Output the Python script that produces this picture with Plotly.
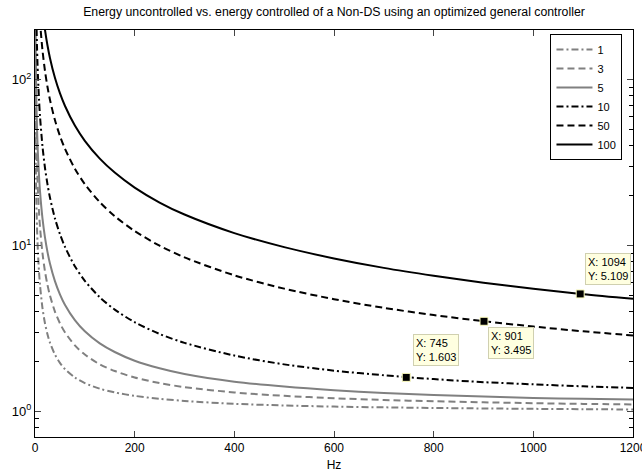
import math
import plotly.graph_objects as go

freq = [0.25, 1, 2, 3, 4, 5, 6, 8, 10, 15, 20, 25, 30, 40, 50, 60, 80, 100, 130, 160,
        200, 250, 300, 400, 500, 600, 700, 800, 900, 1000, 1100, 1200]

ratio_1 = [193, 49, 25, 17, 13, 10.6, 9, 7, 5.8, 4.2, 3.4, 2.92, 2.6, 2.2, 1.96, 1.8, 1.6, 1.48, 1.37, 1.3,
           1.24, 1.19, 1.155, 1.11, 1.085, 1.068, 1.057, 1.048, 1.041, 1.035, 1.030, 1.026]
ratio_3 = [481, 121, 61, 41, 31, 25, 21, 16, 13, 9, 7, 5.8, 5, 4, 3.4, 3, 2.5, 2.2, 1.92, 1.75,
           1.6, 1.48, 1.4, 1.3, 1.24, 1.2, 1.171, 1.15, 1.133, 1.12, 1.109, 1.10]
ratio_5 = [817, 205, 103, 69, 52, 41.8, 35, 26.5, 21.4, 14.6, 11.2, 9.16, 7.8, 6.1, 5.08, 4.4, 3.55, 3.04, 2.57, 2.28,
           2.02, 1.82, 1.68, 1.51, 1.41, 1.34, 1.29, 1.255, 1.227, 1.204, 1.19, 1.178]
ratio_10 = [3050, 696.5, 333, 216.6, 159.6, 126.1, 104, 76.8, 60.7, 39.8, 29.5, 23.5, 19.5, 14.6, 11.75, 9.85, 7.51, 6.13, 4.88, 4.11,
            3.45, 2.93, 2.59, 2.17, 1.92, 1.76, 1.65, 1.565, 1.50, 1.455, 1.415, 1.385]
ratio_50 = [8993, 2249, 1125, 750, 563, 450.6, 375.7, 282, 225.8, 150.9, 113.4, 90.9, 75.9, 57.2, 46.0, 38.5, 29.1, 23.5, 18.3, 15.05,
            12.24, 9.99, 8.49, 6.62, 5.50, 4.75, 4.21, 3.81, 3.50, 3.25, 3.04, 2.87]
ratio_100 = [14000, 3650, 1864, 1258, 952, 767, 643, 486.5, 392, 264.8, 200.6, 161.7, 135.7, 102.9, 83.1, 69.8, 53.0, 42.9, 33.5, 27.6,
             22.4, 18.2, 15.4, 11.9, 9.79, 8.37, 7.34, 6.58, 5.97, 5.49, 5.09, 4.78]

series_names = ["1", "3", "5", "10", "50", "100"]
series_values = [ratio_1, ratio_3, ratio_5, ratio_10, ratio_50, ratio_100]
series_colors = ["#808080", "#808080", "#808080", "#000000", "#000000", "#000000"]
series_dash = ["7px,3px,2px,3px", "7px,4px", "solid", "7px,3px,2px,3px", "7px,4px", "solid"]

tip_x = [745, 901, 1094]
tip_y = [1.603, 3.495, 5.109]

x_ticks = [0, 200, 400, 600, 800, 1000, 1200]
y_ticks = [1, 10, 100]
y_ticktext = ["10<sup>0</sup>", "10<sup>1</sup>", "10<sup>2</sup>"]
y_minor = [0.7, 0.8, 0.9, 2, 3, 4, 5, 6, 7, 8, 9, 20, 30, 40, 50, 60, 70, 80, 90, 200]

FONT = "Liberation Sans, Arial, sans-serif"

fig = go.Figure()
for name, vals, col, dash in zip(series_names, series_values, series_colors, series_dash):
    fig.add_trace(go.Scatter(x=freq, y=vals, mode="lines", name=name,
                             line=dict(color=col, width=2, dash=dash, shape="spline", smoothing=0.8)))

fig.add_trace(go.Scatter(x=tip_x, y=tip_y, mode="markers", showlegend=False,
                         marker=dict(symbol="square", size=8, color="black",
                                     line=dict(color="#FFFFC0", width=1))))

tip_offsets = [(7, 11, "bottom"), (4, -6, "top"), (5, 9, "bottom")]
for xv, yv, (dx, dy, ya) in zip(tip_x, tip_y, tip_offsets):
    fig.add_annotation(x=xv, y=math.log10(yv), xref="x", yref="y",
                       text=f"X: {xv}<br>Y: {yv}", showarrow=False, align="left",
                       xanchor="left", yanchor=ya, xshift=dx, yshift=dy,
                       bgcolor="#FFFFE0", bordercolor="#D0D0B0", borderwidth=1, borderpad=2,
                       font=dict(family=FONT, size=11, color="black"))

fig.update_layout(
    width=642, height=472,
    margin=dict(l=35, r=9, t=30, b=35, autoexpand=False),
    paper_bgcolor="white", plot_bgcolor="white",
    font=dict(family=FONT, size=12, color="black"),
    title=dict(text="Energy uncontrolled vs. energy controlled of a Non-DS using an optimized general controller",
               x=0.5, xref="paper", xanchor="center", y=1 - 12 / 472, yref="container", yanchor="middle",
               font=dict(family=FONT, size=12.3, color="black")),
    showlegend=True,
    legend=dict(x=0.862, y=0.99, xanchor="left", yanchor="top", bgcolor="white",
                bordercolor="black", borderwidth=1, font=dict(family=FONT, size=11),
                tracegroupgap=0, itemwidth=36),
)
fig.update_xaxes(range=[0, 1200], tickvals=x_ticks, ticks="inside", ticklen=6, showline=True,
                 linecolor="black", linewidth=1, mirror="ticks", showgrid=False, zeroline=False,
                 ticklabeloverflow="allow", automargin=False, tickfont=dict(size=12),
                 title=dict(text="Hz", standoff=6, font=dict(size=12)))
fig.update_yaxes(type="log", range=[math.log10(0.7), math.log10(200)], tickvals=y_ticks,
                 ticktext=y_ticktext, ticks="inside", ticklen=6, showline=True, linecolor="black",
                 linewidth=1, mirror="allticks", showgrid=False, zeroline=False, tickfont=dict(size=13),
                 automargin=False,
                 minor=dict(tickvals=y_minor, ticks="inside", ticklen=4, tickcolor="black", showgrid=False))

fig.write_html("out.html")
